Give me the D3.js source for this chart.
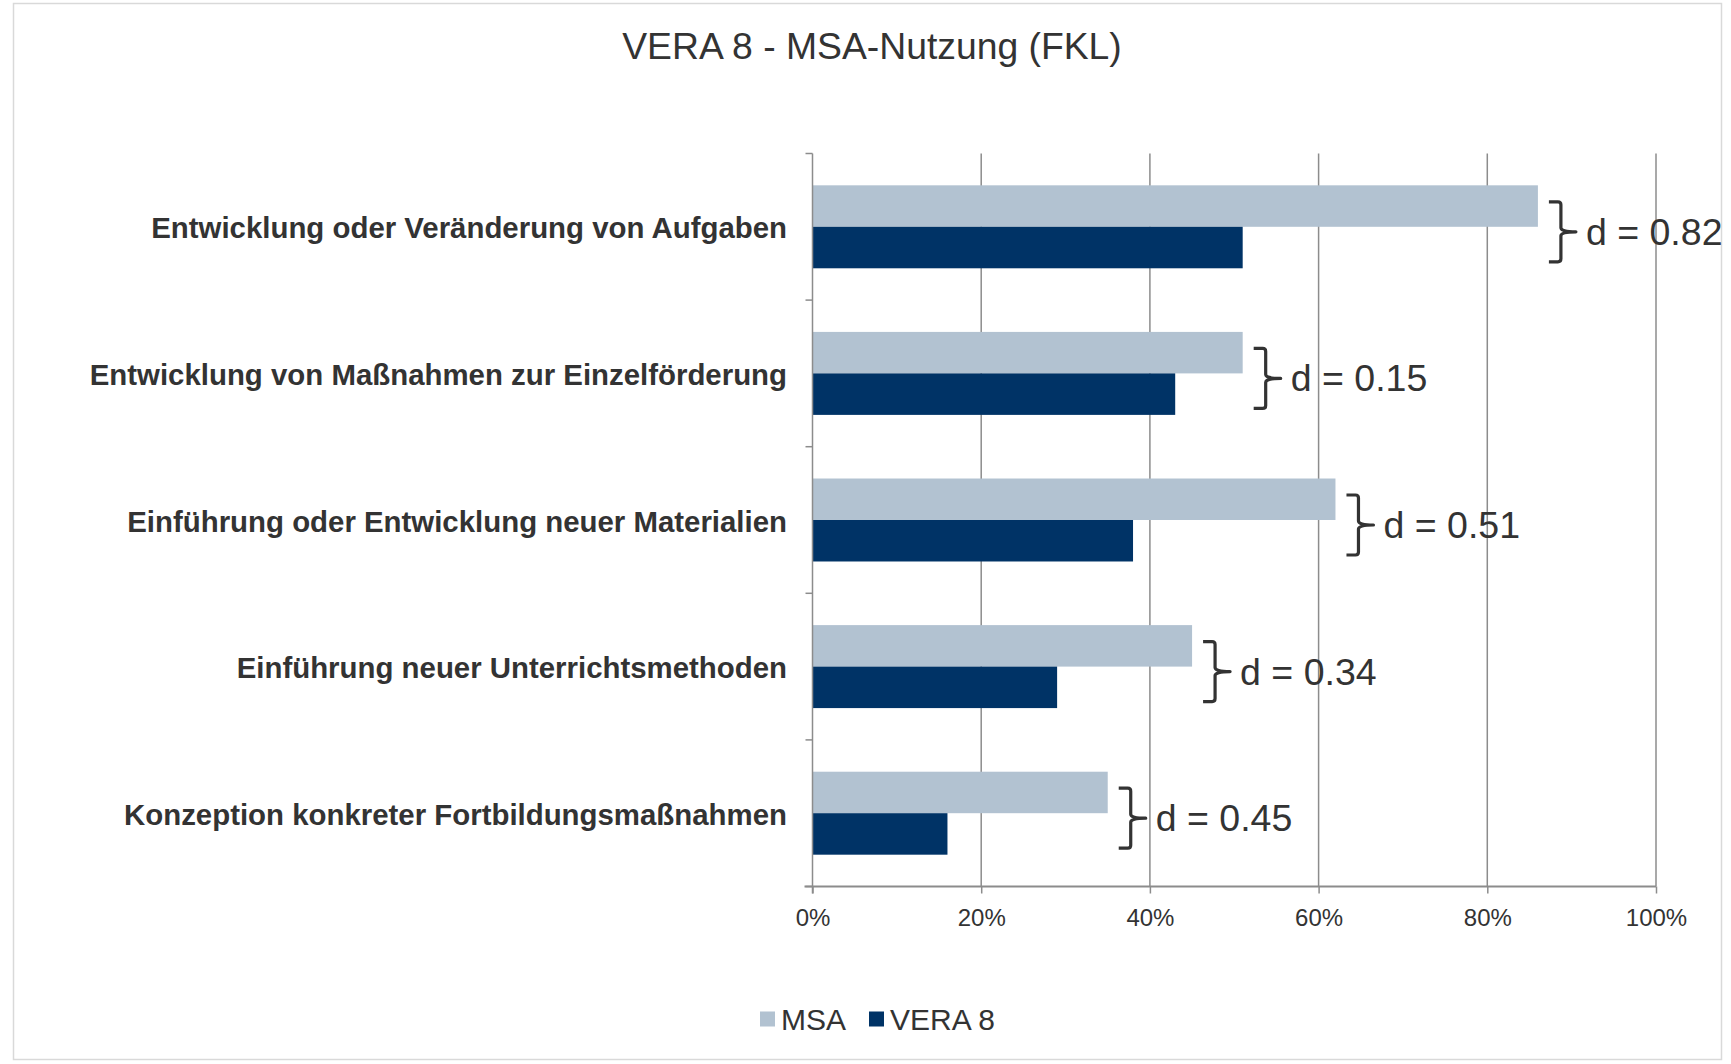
<!DOCTYPE html>
<html>
<head>
<meta charset="utf-8">
<script src="https://cdn.jsdelivr.net/npm/d3@7"></script>
<style>
  html, body { margin: 0; padding: 0; background: #ffffff; }
  svg { display: block; font-family: "Liberation Sans", Arial, sans-serif; }
</style>
</head>
<body>
<svg id="chart" width="1731" height="1064"></svg>
<script>
const title = "VERA 8 - MSA-Nutzung (FKL)";
const categories = [
  "Entwicklung oder Veränderung von Aufgaben",
  "Entwicklung von Maßnahmen zur Einzelförderung",
  "Einführung oder Entwicklung neuer Materialien",
  "Einführung neuer Unterrichtsmethoden",
  "Konzeption konkreter Fortbildungsmaßnahmen"
];
const seriesNames = ["MSA", "VERA 8"];
const msaValues = [0.86, 0.51, 0.62, 0.45, 0.35];
const vera8Values = [0.51, 0.43, 0.38, 0.29, 0.16];
const effectSizes = ["d = 0.82", "d = 0.15", "d = 0.51", "d = 0.34", "d = 0.45"];
const xTicks = [0, 0.2, 0.4, 0.6, 0.8, 1.0];

const colors = { "MSA": "#b2c2d1", "VERA 8": "#003366" };
const textColor = "#333333";
const gridColor = "#8c8c8c";

const svg = d3.select("#chart");

// outer frame
svg.append("rect").attr("x", 13.5).attr("y", 3.5).attr("width", 1708).attr("height", 1056)
  .attr("fill", "#ffffff").attr("stroke", "#d9d9d9").attr("stroke-width", 1.5);

// title
svg.append("text").attr("x", 872).attr("y", 46).attr("text-anchor", "middle")
  .attr("dominant-baseline", "central").attr("font-size", 37.3).attr("fill", textColor).text(title);

const plot = { left: 812.5, right: 1656, top: 153.5, bottom: 886.5 };

const x = d3.scaleLinear().domain([0, 1]).range([plot.left, plot.right]);
const y = d3.scaleBand().domain(categories).range([plot.top, plot.bottom])
  .paddingInner(0.434).paddingOuter(0.217);
const ySub = d3.scaleBand().domain(seriesNames).range([0, y.bandwidth()]);

// gridlines
svg.append("g").selectAll("line").data(xTicks.slice(1)).join("line")
  .attr("x1", d => x(d)).attr("x2", d => x(d))
  .attr("y1", plot.top).attr("y2", plot.bottom)
  .attr("stroke", gridColor).attr("stroke-width", 1.5);

// bars
const rows = categories.map((c, i) => ({ cat: c, vals: [
  { s: "MSA", v: msaValues[i] }, { s: "VERA 8", v: vera8Values[i] }
], d: effectSizes[i], msa: msaValues[i] }));

const grp = svg.append("g").selectAll("g").data(rows).join("g")
  .attr("transform", d => `translate(0,${y(d.cat)})`);
grp.selectAll("rect").data(d => d.vals).join("rect")
  .attr("x", x(0)).attr("y", d => ySub(d.s))
  .attr("width", d => x(d.v) - x(0)).attr("height", ySub.bandwidth())
  .attr("fill", d => colors[d.s]);

// x axis
const xAxis = d3.axisBottom(x).tickValues(xTicks).tickFormat(d3.format(".0%")).tickSize(7).tickSizeOuter(0);
const gx = svg.append("g").attr("transform", `translate(0,${plot.bottom})`).call(xAxis);
gx.select(".domain").remove();
gx.selectAll(".tick line").attr("stroke", gridColor).attr("stroke-width", 1.5);
gx.selectAll(".tick text").attr("font-size", 24).attr("fill", textColor)
  .attr("font-family", "Liberation Sans, Arial, sans-serif").attr("dy", null).attr("y", 31)
  .attr("dominant-baseline", "central");
svg.append("line").attr("x1", plot.left - 8).attr("x2", plot.right)
  .attr("y1", plot.bottom).attr("y2", plot.bottom)
  .attr("stroke", gridColor).attr("stroke-width", 2);

// y axis line and boundary ticks
svg.append("line").attr("x1", plot.left).attr("x2", plot.left)
  .attr("y1", plot.top).attr("y2", plot.bottom + 7)
  .attr("stroke", gridColor).attr("stroke-width", 1.5);
const edges = d3.range(categories.length + 1).map(i => plot.top + i * y.step());
svg.append("g").selectAll("line").data(edges).join("line")
  .attr("x1", plot.left - 7).attr("x2", plot.left)
  .attr("y1", d => d).attr("y2", d => d)
  .attr("stroke", gridColor).attr("stroke-width", 1.5);

// category labels
svg.append("g").selectAll("text").data(categories).join("text")
  .attr("x", 787).attr("y", d => y(d) + y.bandwidth() / 2 + 1)
  .attr("text-anchor", "end").attr("dominant-baseline", "central")
  .attr("font-size", 29.4).attr("font-weight", "bold").attr("fill", textColor)
  .text(d => d);

// braces with effect sizes
const braceG = svg.append("g").selectAll("g").data(rows).join("g")
  .attr("transform", d => `translate(${x(d.msa)},${y(d.cat) + y.bandwidth() / 2 + 5})`);
braceG.append("path")
  .attr("d", "M11,-30 L20,-30 Q23,-30 23,-27 L23,-4 Q23,0 38,0 Q23,0 23,4 L23,27 Q23,30 20,30 L11,30")
  .attr("fill", "none").attr("stroke", textColor).attr("stroke-width", 3.2)
  .attr("stroke-linejoin", "round");
braceG.append("text").attr("x", 48).attr("y", 0).attr("dominant-baseline", "central")
  .attr("font-size", 37.5).attr("fill", textColor).text(d => d.d);

// legend
const legend = svg.append("g").attr("transform", "translate(760,1019)");
const legendItems = legend.selectAll("g").data(seriesNames).join("g")
  .attr("transform", (d, i) => `translate(${i * 109},0)`);
legendItems.append("rect").attr("x", 0).attr("y", -7.5).attr("width", 15).attr("height", 15)
  .attr("fill", d => colors[d]);
legendItems.append("text").attr("x", 21).attr("y", 0).attr("dominant-baseline", "central")
  .attr("font-size", 30).attr("fill", textColor).text(d => d);
</script>
</body>
</html>
